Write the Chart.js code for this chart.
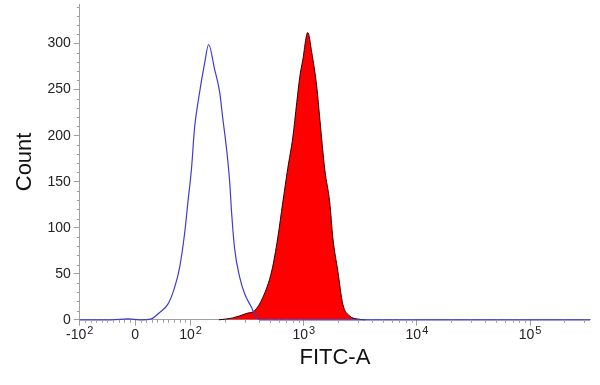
<!DOCTYPE html>
<html>
<head>
<meta charset="utf-8">
<script src="https://cdn.jsdelivr.net/npm/chart.js@4"></script>
<style>
  html, body { margin: 0; padding: 0; background: #fff; }
  #wrap { width: 600px; height: 385px; }
</style>
</head>
<body>
<div id="wrap"><canvas id="histo"></canvas></div>
<script>
// x values are display channels (decades on the biexponential FITC-A axis)
const unstainedX = [1.02, 1.30, 1.45, 1.55, 1.652, 1.726, 1.799, 1.858, 1.903, 1.947, 1.978, 2.009, 2.035, 2.065, 2.124, 2.159, 2.212, 2.257, 2.283, 2.319, 2.345, 2.363, 2.389, 2.434, 2.478, 2.540, 2.566, 2.611, 3.5, 5.53];
const unstainedCount = [0, 0, 1, 0, 1, 8, 17, 35, 57, 94, 130, 166, 209, 236, 279, 299, 272, 247, 220, 184, 150, 115, 77, 46, 28, 13, 6, 0, 0, 0];

const stainedX = [2.25, 2.372, 2.496, 2.566, 2.637, 2.717, 2.770, 2.814, 2.858, 2.903, 2.938, 2.965, 2.991, 3.035, 3.071, 3.115, 3.142, 3.186, 3.230, 3.257, 3.301, 3.345, 3.407, 3.469, 3.54];
const stainedCount = [0, 2, 7, 10, 24, 53, 89, 127, 164, 198, 236, 264, 282, 312, 290, 253, 218, 163, 127, 89, 53, 17, 4, 1, 0];

const xTickValues = [-100, 0, 100, 1000, 10000, 100000];
const xTickLabels = ['-10^2', '0', '10^2', '10^3', '10^4', '10^5'];
const yTicks = [0, 50, 100, 150, 200, 250, 300];

const FONT = 'Liberation Sans, Arial, sans-serif';

// biexponential-ish: linear around zero, log10 above 100
function toChannel(v) {
    if (v >= 100) return Math.log10(v);
    return 1.51 + v * 0.0049;
}

const xMajor = xTickValues.map(toChannel);
const xMinor = [];
for (let v = -90; v < 100; v += 10) { if (v !== 0) xMinor.push(toChannel(v)); }
for (let d = 2; d <= 5; d++) {
    for (let k = 2; k <= 9; k++) xMinor.push(Math.log10(k * Math.pow(10, d)));
}
const yMinor = [];
for (let v = 10; v <= 340; v += 10) { if (v % 50 !== 0) yMinor.push(v); }

// small ticks + x labels with raised exponents
const axisExtras = {
    id: 'axisExtras',
    afterDraw(chart) {
        const ctx = chart.ctx;
        const xs = chart.scales.x, ys = chart.scales.y;
        const area = chart.chartArea;
        ctx.save();
        ctx.strokeStyle = '#a0a0a0';
        ctx.lineWidth = 1;
        ctx.beginPath();
        yMinor.forEach(function(v) {
            const y = Math.round(ys.getPixelForValue(v)) + 0.5;
            ctx.moveTo(area.left - 3, y);
            ctx.lineTo(area.left, y);
        });
        xMinor.forEach(function(v) {
            if (v > xs.max) return;
            const x = Math.round(xs.getPixelForValue(v)) + 0.5;
            ctx.moveTo(x, area.bottom);
            ctx.lineTo(x, area.bottom + 3);
        });
        ctx.stroke();

        ctx.fillStyle = '#222';
        ctx.textBaseline = 'alphabetic';
        ctx.textAlign = 'left';
        const baseY = area.bottom + 19;
        xTickLabels.forEach(function(lbl, i) {
            const parts = lbl.split('^');
            ctx.font = '14px ' + FONT;
            const wBase = ctx.measureText(parts[0]).width;
            let wExp = 0;
            if (parts[1]) {
                ctx.font = '11px ' + FONT;
                wExp = ctx.measureText(parts[1]).width + 1;
            }
            const x0 = xs.getPixelForValue(xMajor[i]) - (wBase + wExp) / 2;
            ctx.font = '14px ' + FONT;
            ctx.fillText(parts[0], x0, baseY);
            if (parts[1]) {
                ctx.font = '11px ' + FONT;
                ctx.fillText(parts[1], x0 + wBase + 1, baseY - 5);
            }
        });
        ctx.restore();
    }
};

new Chart(document.getElementById('histo'), {
    type: 'line',
    data: {
        datasets: [{
            label: 'Unstained',
            data: unstainedX.map((x, i) => ({ x: x, y: unstainedCount[i] })),
            borderColor: '#3d3dcc',
            borderWidth: 1.2,
            pointRadius: 0,
            fill: false,
            cubicInterpolationMode: 'monotone',
            clip: 3
        }, {
            label: 'FITC',
            data: stainedX.map((x, i) => ({ x: x, y: stainedCount[i] })),
            borderColor: '#2a0000',
            backgroundColor: '#ff0000',
            borderWidth: 1,
            pointRadius: 0,
            fill: 'origin',
            cubicInterpolationMode: 'monotone',
            clip: 3
        }]
    },
    options: {
        responsive: true,
        maintainAspectRatio: false,
        animation: false,
        layout: { padding: { top: 4, right: 10, bottom: 14, left: 12 } },
        plugins: {
            legend: { display: false },
            tooltip: { enabled: false }
        },
        scales: {
            x: {
                type: 'linear',
                min: 1.02,
                max: 5.53,
                afterBuildTicks: function(axis) {
                    axis.ticks = xMajor.map(v => ({ value: v }));
                },
                ticks: {
                    autoSkip: false,
                    maxRotation: 0,
                    padding: 0,
                    color: 'rgba(0,0,0,0)',
                    font: { family: FONT, size: 14 },
                    callback: function(value) {
                        const i = xMajor.findIndex(m => Math.abs(m - value) < 1e-6);
                        return i >= 0 ? xTickLabels[i].replace('^', '') : '';
                    }
                },
                grid: { display: true, drawOnChartArea: false, color: '#a0a0a0', tickLength: 6 },
                border: { color: '#a0a0a0' },
                title: {
                    display: true,
                    text: 'FITC-A',
                    color: '#111',
                    padding: { top: 2, bottom: 0 },
                    font: { family: FONT, size: 22 }
                }
            },
            y: {
                min: 0,
                max: 343,
                afterBuildTicks: function(axis) {
                    axis.ticks = yTicks.map(v => ({ value: v }));
                },
                afterFit: function(scale) {
                    scale.paddingTop = 0;
                },
                ticks: {
                    padding: 3,
                    color: '#222',
                    font: { family: FONT, size: 14 }
                },
                grid: { display: true, drawOnChartArea: false, color: '#a0a0a0', tickLength: 6 },
                border: { color: '#a0a0a0' },
                title: {
                    display: true,
                    text: 'Count',
                    color: '#111',
                    padding: { top: 0, bottom: 6 },
                    font: { family: FONT, size: 22 }
                }
            }
        }
    },
    plugins: [axisExtras]
});
</script>
</body>
</html>
